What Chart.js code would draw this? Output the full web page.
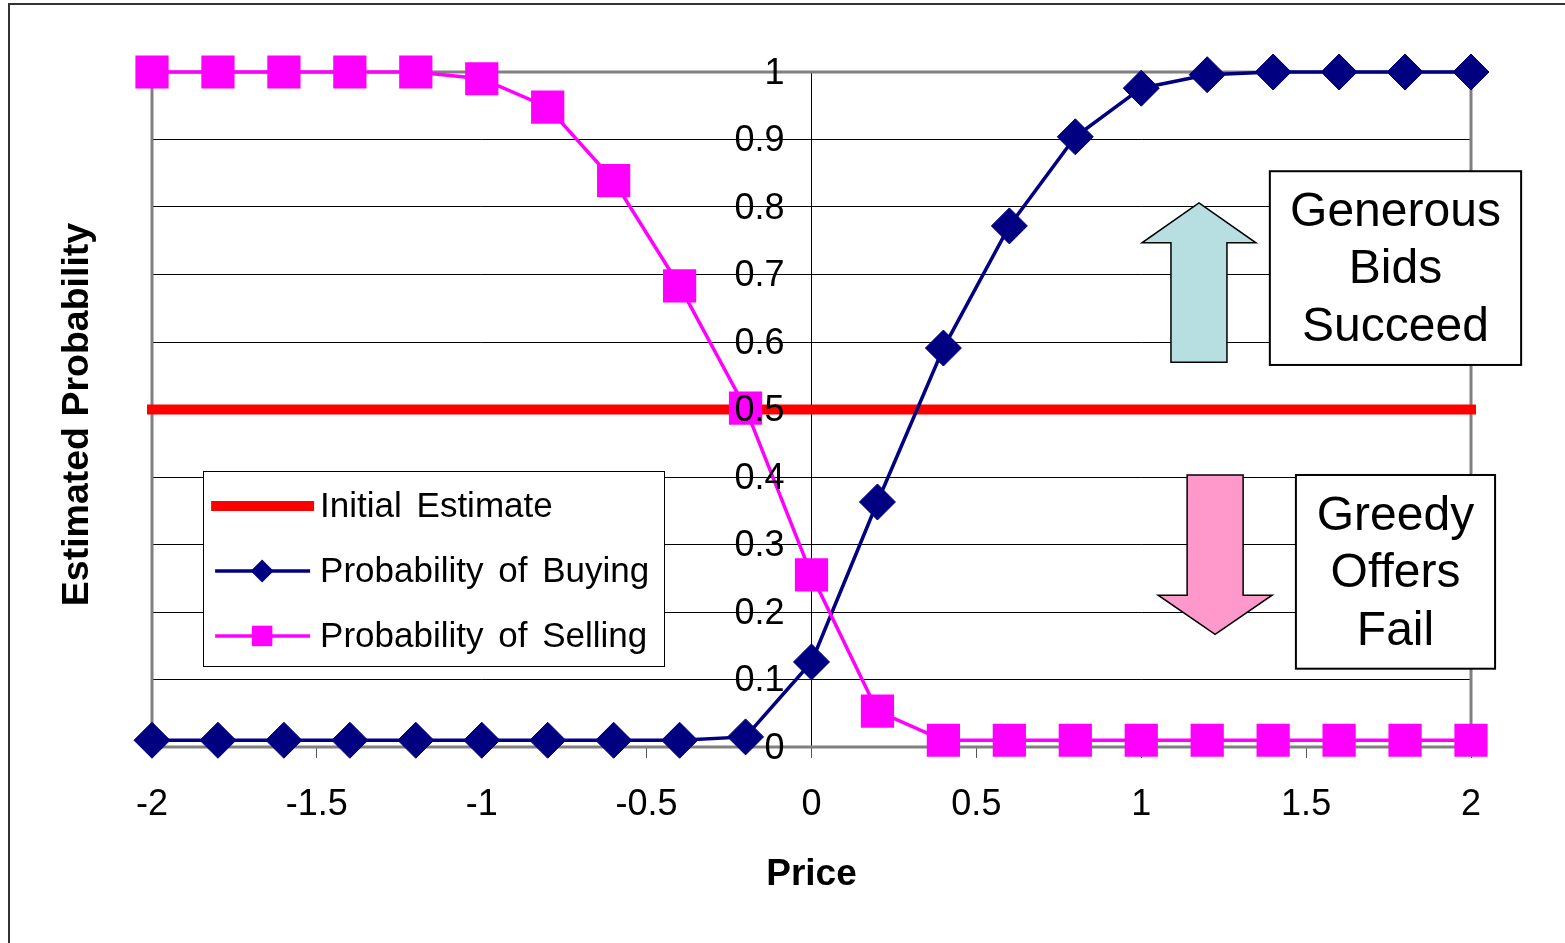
<!DOCTYPE html>
<html>
<head>
<meta charset="utf-8">
<title>Estimated Probability vs Price</title>
<script src="https://cdn.jsdelivr.net/npm/chart.js@4/dist/chart.umd.min.js"></script>
<style>
  html, body { margin: 0; padding: 0; background: #fff; }
  #wrap { width: 1565px; height: 943px; }
</style>
</head>
<body>
<div id="wrap"><canvas id="chart" width="1565" height="943"></canvas></div>
<script>
// ---- data ----
const prices     = [-2, -1.8, -1.6, -1.4, -1.2, -1, -0.8, -0.6, -0.4, -0.2, 0, 0.2, 0.4, 0.6, 0.8, 1, 1.2, 1.4, 1.6, 1.8, 2];
const buyProb    = [0.01, 0.01, 0.01, 0.01, 0.01, 0.01, 0.01, 0.01, 0.01, 0.015, 0.126, 0.363, 0.591, 0.772, 0.904, 0.976, 0.996, 1, 1, 1, 1];
const sellProb   = [1, 1, 1, 1, 1, 0.99, 0.948, 0.839, 0.683, 0.502, 0.255, 0.053, 0.01, 0.01, 0.01, 0.01, 0.01, 0.01, 0.01, 0.01, 0.01];
const initPrices = [-2, 2];
const initProb   = [0.5, 0.5];
const seriesNames = ['Initial Estimate', 'Probability of Buying', 'Probability of Selling'];
const xTitle = 'Price';
const yTitle = 'Estimated Probability';
const upNote   = ['Generous', 'Bids', 'Succeed'];
const downNote = ['Greedy', 'Offers', 'Fail'];

// ---- layout of the notes and legend (in axis units) ----
const notePlacement = {
  upArrow:   { x: 1.175, tail: 0.570, base: 0.747, tip: 0.806, fill: '#B7DFE1' },
  downArrow: { x: 1.224, tail: 0.403, base: 0.225, tip: 0.167, fill: '#FF99CC' },
  upBox:     { x0: 1.390, x1: 2.152, y0: 0.853, y1: 0.566 },
  downBox:   { x0: 1.469, x1: 2.073, y0: 0.403, y1: 0.116 },
  legend:    { x0: -1.845, x1: -0.447, y0: 0.409, y1: 0.120 }
};

const FAMILY = '"Liberation Sans", Arial, sans-serif';
const pts = (xs, ys) => xs.map((x, i) => ({ x: x, y: ys[i] }));
const fmt = v => String(Math.round(v * 10) / 10);

// page frame, plot border and y-axis title
const framePlugin = {
  id: 'frame',
  beforeDraw(chart) {
    const ctx = chart.ctx;
    ctx.save();
    ctx.fillStyle = '#fff';
    ctx.fillRect(0, 0, chart.width, chart.height);
    ctx.strokeStyle = '#333';
    ctx.lineWidth = 2;
    ctx.strokeRect(9, 4, chart.width + 40, chart.height + 40);
    ctx.restore();
  },
  beforeDatasetsDraw(chart) {
    const ctx = chart.ctx;
    const a = chart.chartArea;
    ctx.save();
    ctx.strokeStyle = '#808080';
    ctx.lineWidth = 3;
    ctx.strokeRect(a.left, a.top, a.right - a.left, a.bottom - a.top);
    // y-axis title
    ctx.translate(78, (a.top + a.bottom) / 2 + 5);
    ctx.rotate(-Math.PI / 2);
    ctx.fillStyle = '#000';
    ctx.font = 'bold 37.5px ' + FAMILY;
    ctx.textAlign = 'center';
    ctx.textBaseline = 'middle';
    ctx.fillText(yTitle, 0, 0);
    ctx.restore();
  }
};

// y tick labels (on top of the series), legend box and the two arrow notes
const notesPlugin = {
  id: 'notes',
  afterDraw(chart) {
    const ctx = chart.ctx;
    const xs = chart.scales.x, ys = chart.scales.y;
    const px = v => xs.getPixelForValue(v);
    const py = v => ys.getPixelForValue(v);

    // y tick labels, right-aligned left of the tick marks at x = 0
    ctx.save();
    ctx.fillStyle = '#000';
    ctx.font = '36px ' + FAMILY;
    ctx.textAlign = 'right';
    ctx.textBaseline = 'middle';
    const labelRight = px(0) - 27;
    ys.ticks.forEach(t => {
      ctx.fillText(fmt(t.value), labelRight, py(t.value) + 2);
    });
    ctx.restore();

    // legend
    const L = notePlacement.legend;
    const lx0 = px(L.x0), lx1 = px(L.x1), ly0 = py(L.y0), ly1 = py(L.y1);
    ctx.save();
    ctx.fillStyle = '#fff';
    ctx.fillRect(lx0, ly0, lx1 - lx0, ly1 - ly0);
    ctx.strokeStyle = '#000';
    ctx.lineWidth = 1;
    ctx.strokeRect(Math.round(lx0) + 0.5, Math.round(ly0) + 0.5, Math.round(lx1 - lx0), Math.round(ly1 - ly0));
    chart.data.datasets.forEach((ds, i) => {
      const rowY = ly0 + 35 + i * 65;
      ctx.strokeStyle = ds.borderColor;
      ctx.lineWidth = ds.borderWidth;
      ctx.beginPath();
      ctx.moveTo(lx0 + (i === 0 ? 8 : 12), rowY);
      ctx.lineTo(lx0 + (i === 0 ? 111 : 107), rowY);
      ctx.stroke();
      if (ds.pointRadius > 0) {
        ctx.fillStyle = ds.backgroundColor;
        ctx.strokeStyle = ds.borderColor;
        Chart.helpers.drawPoint(ctx, {
          pointStyle: ds.pointStyle,
          radius: ds.pointStyle === 'rect' ? 14.5 : 11.5,
          borderWidth: 0,
          rotation: 0
        }, lx0 + 59, rowY);
      }
      ctx.fillStyle = '#000';
      ctx.font = '35px ' + FAMILY;
      ctx.textAlign = 'left';
      ctx.textBaseline = 'middle';
      try { ctx.wordSpacing = '5px'; } catch (e) {}
      ctx.fillText(ds.label, lx0 + 117, rowY + 1);
    });
    ctx.restore();

    // arrows
    const arrow = (A) => {
      const cx = px(A.x), tail = py(A.tail), base = py(A.base), tip = py(A.tip);
      const sh = 28, hh = 57;
      ctx.save();
      ctx.beginPath();
      ctx.moveTo(cx - sh, tail);
      ctx.lineTo(cx - sh, base);
      ctx.lineTo(cx - hh, base);
      ctx.lineTo(cx, tip);
      ctx.lineTo(cx + hh, base);
      ctx.lineTo(cx + sh, base);
      ctx.lineTo(cx + sh, tail);
      ctx.closePath();
      ctx.fillStyle = A.fill;
      ctx.fill();
      ctx.strokeStyle = '#000';
      ctx.lineWidth = 1.5;
      ctx.lineJoin = 'miter';
      ctx.stroke();
      ctx.restore();
    };
    arrow(notePlacement.upArrow);
    arrow(notePlacement.downArrow);

    // text boxes
    const box = (B, lines) => {
      const x0 = px(B.x0), x1 = px(B.x1), y0 = py(B.y0), y1 = py(B.y1);
      ctx.save();
      ctx.fillStyle = '#fff';
      ctx.fillRect(x0, y0, x1 - x0, y1 - y0);
      ctx.strokeStyle = '#000';
      ctx.lineWidth = 2;
      ctx.strokeRect(x0, y0, x1 - x0, y1 - y0);
      ctx.fillStyle = '#000';
      ctx.font = '48px ' + FAMILY;
      ctx.textAlign = 'center';
      ctx.textBaseline = 'middle';
      const cx = (x0 + x1) / 2, cy = (y0 + y1) / 2;
      const step = 57.5;
      lines.forEach((t, i) => {
        ctx.fillText(t, cx, cy + (i - (lines.length - 1) / 2) * step + 2);
      });
      ctx.restore();
    };
    box(notePlacement.upBox, upNote);
    box(notePlacement.downBox, downNote);
  }
};

new Chart(document.getElementById('chart'), {
  type: 'line',
  data: {
    datasets: [
      {
        label: seriesNames[0],
        data: pts(initPrices, initProb),
        borderColor: '#FF0000',
        backgroundColor: '#FF0000',
        borderWidth: 10,
        borderCapStyle: 'square',
        pointRadius: 0,
        order: 3
      },
      {
        label: seriesNames[1],
        data: pts(prices, buyProb),
        borderColor: '#000080',
        backgroundColor: '#000080',
        borderWidth: 3.5,
        pointStyle: 'rectRot',
        pointRadius: 18,
        pointBorderWidth: 1,
        order: 2
      },
      {
        label: seriesNames[2],
        data: pts(prices, sellProb),
        borderColor: '#FF00FF',
        backgroundColor: '#FF00FF',
        borderWidth: 3.5,
        pointStyle: 'rect',
        pointRadius: 23.5,
        pointBorderWidth: 0,
        order: 1
      }
    ]
  },
  options: {
    responsive: false,
    animation: false,
    devicePixelRatio: 1,
    clip: false,
    layout: { padding: { left: 152, right: 94, top: 72, bottom: 0 } },
    elements: { line: { tension: 0 } },
    plugins: { legend: { display: false }, tooltip: { enabled: false } },
    scales: {
      x: {
        type: 'linear',
        position: 'bottom',
        min: -2,
        max: 2,
        afterFit(scale) { scale.height = 196; },
        ticks: {
          stepSize: 0.5,
          autoSkip: false,
          maxRotation: 0,
          padding: 25,
          color: '#000',
          font: { family: FAMILY, size: 36 },
          callback: v => fmt(v)
        },
        grid: { drawOnChartArea: false, drawTicks: true, tickLength: 11, tickColor: '#555', lineWidth: 1 },
        border: { display: false },
        title: {
          display: true,
          text: xTitle,
          color: '#000',
          font: { family: FAMILY, size: 37, weight: 'bold' },
          padding: { top: 0, bottom: 46 }
        }
      },
      y: {
        type: 'linear',
        position: { x: 0 },
        min: 0,
        max: 1,
        ticks: {
          stepSize: 0.1,
          color: 'rgba(0,0,0,0)',
          font: { family: FAMILY, size: 36 },
          callback: v => fmt(v)
        },
        grid: {
          color: c => (Math.abs(c.tick.value) < 1e-9 || Math.abs(c.tick.value - 1) < 1e-9) ? 'rgba(0,0,0,0)' : '#000',
          lineWidth: 1,
          tickLength: 9,
          tickColor: '#000'
        },
        border: { display: true, color: '#000', width: 1 }
      }
    }
  },
  plugins: [framePlugin, notesPlugin]
});
</script>
</body>
</html>
